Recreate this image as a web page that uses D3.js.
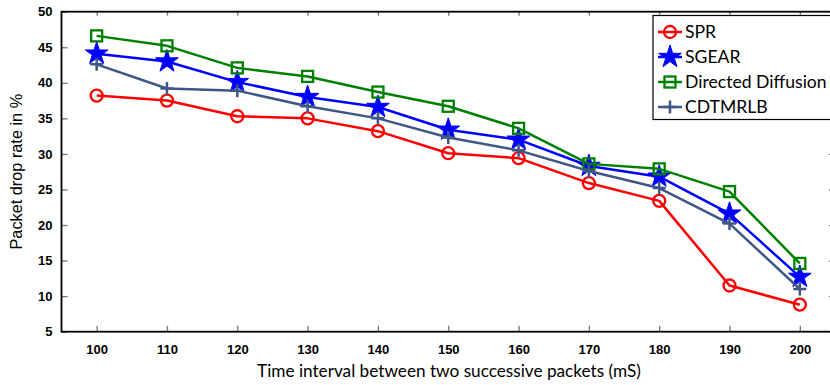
<!DOCTYPE html>
<html>
<head>
<meta charset="utf-8">
<script src="https://cdn.jsdelivr.net/npm/d3@7"></script>
<style>
  body { margin: 0; background: #fff; }
  .line { fill: none; stroke-width: 2.5; stroke-linejoin: round; }
  .tick text { font-family: "Liberation Sans", Arial, sans-serif; font-weight: bold; font-size: 13px; fill: #000; }
  .tick line { stroke: #777; stroke-width: 1.3; }
</style>
</head>
<body>
<div id="chart"></div>
<script>
// x values (time interval, mS)
var intervals = [100, 110, 120, 130, 140, 150, 160, 170, 180, 190, 200];

// packet drop rate in % for each protocol
var spr      = [38.2, 37.5, 35.3, 35.0, 33.2, 30.1, 29.4, 25.9, 23.4, 11.5, 8.8];
var sgear    = [44.1, 43.0, 40.1, 38.0, 36.6, 33.4, 32.0, 28.3, 26.8, 21.6, 12.7];
var directed = [46.6, 45.2, 42.1, 40.9, 38.7, 36.7, 33.6, 28.6, 27.9, 24.7, 14.6];
var cdtmrlb  = [42.6, 39.2, 38.9, 36.7, 35.0, 32.3, 30.5, 27.6, 25.2, 20.2, 11.0];

var yTicks = [5, 10, 15, 20, 25, 30, 35, 40, 45, 50];

var series = [
  {name: "SPR", values: spr, color: "#ff0000", marker: "circle"},
  {name: "SGEAR", values: sgear, color: "#0000ff", marker: "star"},
  {name: "Directed Diffusion", values: directed, color: "#008000", marker: "square"},
  {name: "CDTMRLB", values: cdtmrlb, color: "#3f5787", marker: "plus"}
];

// dimensions: the right edge of the plot runs past the window, as in the original
var margin = {top: 11.7, left: 61.5},
  width = 773.5,
  height = 320;

var svg = d3.select("#chart").append("svg")
  .attr("width", 830)
  .attr("height", 385);

var g = svg.append("g")
  .attr("transform", "translate(" + margin.left + "," + margin.top + ")");

var x = d3.scaleLinear().domain([95, 205]).range([0, width]);
var y = d3.scaleLinear().domain([5, 50]).range([height, 0]);

// axes, ticks pointing inward
g.append("g")
  .attr("transform", "translate(0," + height + ")")
  .call(d3.axisBottom(x).tickValues(intervals).tickSizeInner(-6).tickSizeOuter(0).tickPadding(13))
  .call(function (a) { a.select(".domain").remove(); });

g.append("g")
  .call(d3.axisLeft(y).tickValues(yTicks).tickSizeInner(-6).tickSizeOuter(0).tickPadding(9))
  .call(function (a) { a.select(".domain").remove(); });

g.append("g")
  .call(d3.axisTop(x).tickValues(intervals).tickSizeInner(-4).tickSizeOuter(0).tickFormat(""))
  .call(function (a) { a.select(".domain").remove(); });

g.append("g")
  .attr("transform", "translate(" + width + ",0)")
  .call(d3.axisRight(y).tickValues(yTicks).tickSizeInner(-6).tickSizeOuter(0).tickFormat(""))
  .call(function (a) { a.select(".domain").remove(); });

// frame
g.append("rect")
  .attr("width", width)
  .attr("height", height)
  .attr("fill", "none")
  .attr("stroke", "#000")
  .attr("stroke-width", 1.8);

var line = d3.line()
  .x(function (d, i) { return x(intervals[i]); })
  .y(function (d) { return y(d); });

var star = d3.symbol().type(d3.symbolStar).size(160);

function drawMarker(sel, s) {
  if (s.marker === "circle") {
    sel.append("circle").attr("r", 6)
      .attr("fill", "none").attr("stroke", s.color).attr("stroke-width", 2.3);
  } else if (s.marker === "square") {
    sel.append("rect").attr("x", -5.5).attr("y", -5.5).attr("width", 11).attr("height", 11)
      .attr("fill", "none").attr("stroke", s.color).attr("stroke-width", 2.3);
  } else if (s.marker === "star") {
    sel.append("path").attr("d", star)
      .attr("fill", s.color).attr("stroke", s.color).attr("stroke-width", 1);
  } else {
    sel.append("path").attr("d", "M-6.5,0H6.5M0,-6.5V6.5")
      .attr("fill", "none").attr("stroke", s.color).attr("stroke-width", 2.5);
  }
}

series.forEach(function (s) {
  g.append("path")
    .datum(s.values)
    .attr("class", "line")
    .attr("stroke", s.color)
    .attr("d", line);

  g.selectAll(".pt-" + s.marker)
    .data(s.values)
    .enter().append("g")
    .attr("class", "pt-" + s.marker)
    .attr("transform", function (d, i) {
      return "translate(" + x(intervals[i]) + "," + y(d) + ")";
    })
    .each(function () { drawMarker(d3.select(this), s); });
});

// axis titles
svg.append("text")
  .attr("x", 449)
  .attr("y", 377)
  .attr("text-anchor", "middle")
  .style("font-family", "Lato, 'Open Sans', sans-serif")
  .style("font-size", "17.2px")
  .text("Time interval between two successive packets (mS)");

svg.append("text")
  .attr("transform", "translate(22," + (margin.top + height / 2) + ") rotate(-90)")
  .attr("text-anchor", "middle")
  .style("font-family", "'Liberation Sans', Arial, sans-serif")
  .style("font-size", "16.3px")
  .text("Packet drop rate in %");

// legend
var legend = svg.append("g").attr("transform", "translate(653,15.5)");

legend.append("rect")
  .attr("width", 190)
  .attr("height", 104)
  .attr("fill", "#fff")
  .attr("stroke", "#000")
  .attr("stroke-width", 1.2);

var item = legend.selectAll(".item")
  .data(series)
  .enter().append("g")
  .attr("class", "item")
  .attr("transform", function (d, i) { return "translate(0," + (16.5 + i * 25) + ")"; });

item.append("line")
  .attr("x1", 5).attr("x2", 29)
  .attr("stroke", function (d) { return d.color; })
  .attr("stroke-width", 2.5);

item.append("g")
  .attr("transform", "translate(17,0)")
  .each(function (d) { drawMarker(d3.select(this), d); });

item.append("text")
  .attr("x", 32)
  .attr("dy", ".35em")
  .style("font-family", "Lato, 'Open Sans', sans-serif")
  .style("font-size", "17.6px")
  .text(function (d) { return d.name; });
</script>
</body>
</html>
